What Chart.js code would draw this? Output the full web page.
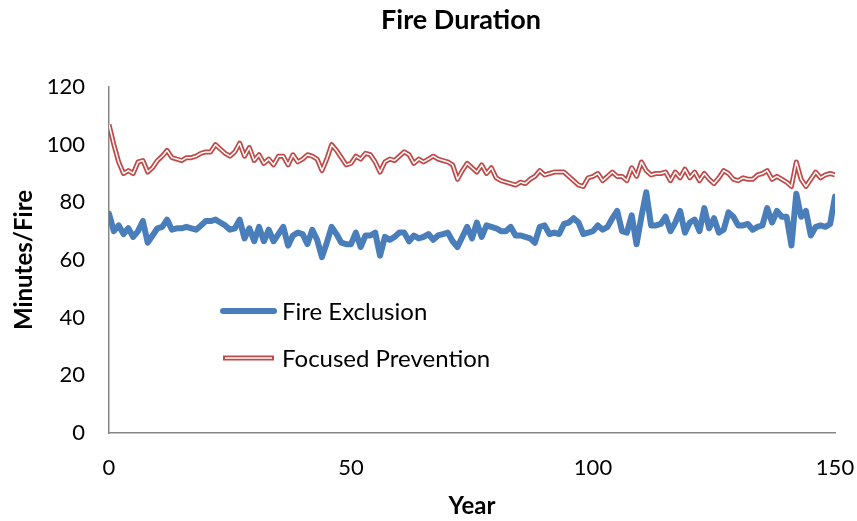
<!DOCTYPE html>
<html>
<head>
<meta charset="utf-8">
<script src="https://cdn.jsdelivr.net/npm/chart.js@4.4.0/dist/chart.umd.min.js"></script>
<style>
  html, body { margin: 0; padding: 0; background: #fff; }
  #wrap { width: 857px; height: 521px; }
</style>
</head>
<body>
<div id="wrap"><canvas id="fireChart" width="857" height="521"></canvas></div>
<script>
const chartTitle = "Fire Duration";
const xAxisTitle = "Year";
const yAxisTitle = "Minutes/Fire";
const seriesNames = ["Fire Exclusion", "Focused Prevention"];

// year 0..150
const fireExclusion = [
  76, 70, 72, 69, 71, 68, 70, 73.5, 66, 68.5,
  71, 71.5, 74, 70.5, 71, 71, 71.5, 71, 70.5, 72,
  73.5, 73.5, 74, 73, 72, 70.5, 71, 74, 67.5, 71,
  66.5, 71.5, 66.5, 70.5, 66.5, 69, 71.5, 65, 68.5, 69.5,
  69, 65.5, 70.5, 67, 61, 66, 71.5, 69, 66, 65.5,
  65.5, 69.5, 64.5, 68.5, 68.5, 69.5, 61.5, 68, 67, 68,
  69.5, 69.5, 66.5, 68.5, 67.5, 68, 69, 67, 68.5, 69,
  69.5, 66.5, 64.5, 68, 71.5, 67.5, 73, 68, 72, 71.5,
  71, 70, 70, 71.5, 68.5, 68.5, 68, 67.5, 66, 71.5,
  72, 69, 69.5, 69, 72.5, 73, 74.5, 73, 69, 69.5,
  70, 72, 70.5, 71.5, 74.5, 77, 70, 69.5, 75.5, 65.5,
  75, 83.5, 72, 72, 72.5, 75, 70, 73, 77, 69.5,
  73, 74, 70, 78, 71, 74.5, 69.5, 70.5, 76.5, 75,
  72, 72, 72.5, 70.5, 71.5, 72, 78, 73, 77, 75,
  75, 65, 83, 75, 77, 68.5, 71.5, 72, 71.5, 72.5,
  82
];

const focusedPrevention = [
  107, 100, 94, 90, 91, 90, 94, 94.5, 90.5, 92,
  94.5, 96, 98, 95.5, 95, 94.5, 95.5, 95.5, 96, 97,
  97.5, 97.5, 100, 98.5, 97, 96, 97.5, 100.5, 96, 99,
  94.5, 96.5, 93.5, 95, 93, 96, 96, 93, 96.5, 94,
  95, 96.5, 96, 95, 91, 95, 100, 98, 95.5, 93,
  93.5, 96, 95, 97, 96.5, 94, 90.5, 94, 95, 94.5,
  96, 97.5, 96.5, 93.5, 95, 94, 95, 96, 95, 94.5,
  94, 93, 88, 91, 93.5, 92, 90.5, 93, 90, 92,
  88.5, 87.5, 87, 86.5, 86, 87, 86.5, 88, 89, 91,
  89.5, 90, 90.5, 90.5, 90.5, 89, 87.5, 86, 85.5, 88.5,
  89, 90, 87.5, 89, 90.5, 89, 89, 87.5, 92, 89,
  94, 91, 89.5, 90, 90, 90.5, 87.5, 90.5, 88.5, 91.5,
  88.5, 90.5, 87.5, 90, 88, 86.5, 88.5, 91, 90, 88,
  87.5, 88.5, 88, 88, 89.5, 90, 91, 88, 89, 88,
  87, 85.5, 94, 88, 85.5, 88, 90.5, 88.5, 89.5, 90,
  89.5
];

const xTicks = [0, 50, 100, 150];
const yTicks = [0, 20, 40, 60, 80, 100, 120];

const blue = "#4a7ebb";
const red = "#be4b48";
const fontName = "Lato, 'Open Sans', sans-serif";

const toPoints = arr => arr.map((v, i) => ({ x: i, y: v }));

// title centred over the plot area + legend inside the plot
const extras = {
  id: "extras",
  afterDraw(chart) {
    const ctx = chart.ctx;
    ctx.save();
    ctx.fillStyle = "#000";
    ctx.font = "bold 27px " + fontName;
    ctx.textAlign = "center";
    ctx.textBaseline = "middle";
    ctx.fillText(chartTitle, 461, 20);

    ctx.font = "24px " + fontName;
    ctx.textAlign = "left";
    ctx.lineCap = "round";
    // Fire Exclusion
    ctx.strokeStyle = blue;
    ctx.lineWidth = 6;
    ctx.beginPath(); ctx.moveTo(223, 311); ctx.lineTo(274, 311); ctx.stroke();
    ctx.fillText(seriesNames[0], 282, 312);
    // Focused Prevention
    ctx.lineCap = "butt";
    ctx.strokeStyle = red;
    ctx.lineWidth = 5;
    ctx.beginPath(); ctx.moveTo(223, 358); ctx.lineTo(274, 358); ctx.stroke();
    ctx.strokeStyle = "#fff";
    ctx.lineWidth = 1.5;
    ctx.beginPath(); ctx.moveTo(225, 358); ctx.lineTo(272, 358); ctx.stroke();
    ctx.fillStyle = "#000";
    ctx.fillText(seriesNames[1], 282, 359);
    ctx.restore();
  }
};

new Chart(document.getElementById("fireChart"), {
  type: "line",
  data: {
    datasets: [
      {
        label: seriesNames[1] + " inner",
        data: toPoints(focusedPrevention),
        borderColor: "#fff",
        borderWidth: 1.5,
        order: 0
      },
      {
        label: seriesNames[1],
        data: toPoints(focusedPrevention),
        borderColor: red,
        borderWidth: 5,
        order: 1
      },
      {
        label: seriesNames[0],
        data: toPoints(fireExclusion),
        borderColor: blue,
        borderWidth: 6,
        borderCapStyle: "round",
        order: 2
      }
    ]
  },
  options: {
    responsive: false,
    animation: false,
    devicePixelRatio: 1,
    parsing: false,
    elements: { point: { radius: 0 }, line: { tension: 0, borderJoinStyle: "round" } },
    layout: { padding: { left: 0, right: 22, top: 87, bottom: 0 } },
    plugins: { legend: { display: false }, title: { display: false }, tooltip: { enabled: false } },
    scales: {
      x: {
        type: "linear",
        min: 0,
        max: 150,
        afterBuildTicks: s => { s.ticks = xTicks.map(v => ({ value: v })); },
        afterFit: s => { s.height = 88; s.paddingLeft = 0; s.paddingRight = 0; },
        grid: { display: false, drawTicks: false },
        border: { color: "#868686", width: 1.5 },
        ticks: { color: "#000", padding: 22, maxRotation: 0, font: { family: fontName, size: 22 } },
        title: { display: true, text: xAxisTitle, color: "#000", padding: { top: 0, bottom: 0 },
                 font: { family: fontName, size: 24, weight: "bold" } }
      },
      y: {
        min: 0,
        max: 120,
        afterBuildTicks: s => { s.ticks = yTicks.map(v => ({ value: v })); },
        afterFit: s => { s.width = 109; },
        grid: { display: false, drawTicks: false },
        border: { color: "#868686", width: 1.5 },
        ticks: { color: "#000", padding: 24, font: { family: fontName, size: 22 } },
        title: { display: true, text: yAxisTitle, color: "#000", padding: { top: 10, bottom: 0 },
                 font: { family: fontName, size: 24, weight: "bold" } }
      }
    }
  },
  plugins: [extras]
});
</script>
</body>
</html>
